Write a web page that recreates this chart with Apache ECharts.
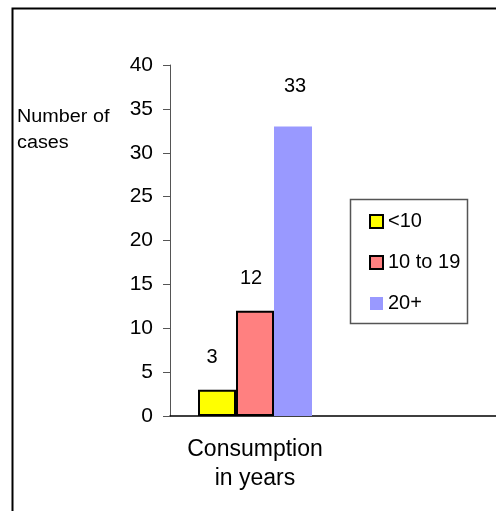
<!DOCTYPE html>
<html>
<head>
<meta charset="utf-8">
<script src="https://cdn.jsdelivr.net/npm/echarts@6/dist/echarts.min.js"></script>
<style>
  html, body { margin: 0; padding: 0; background: #fff; overflow: hidden; }
  #chart { width: 520px; height: 511px; }
</style>
</head>
<body>
<div id="chart"></div>
<script>
// Cases by years of consumption
const categories = ['Consumption\nin years', ''];
const seriesNames = ['<10', '10 to 19', '20+'];
const seriesValues = [3, 12, 33];
const yTicks = { min: 0, max: 40, interval: 5 };

const FONT = '"Liberation Sans", Arial, sans-serif';
const colors = ['#ffff00', '#ff8080', '#9999ff'];
const borders = ['#000', '#000', 'transparent'];
const labelDist = [22, 22, 30];
const labelShift = [[-5, 0], [-4, 0], [2, 0]];

const chart = echarts.init(document.getElementById('chart'), null, { renderer: 'canvas' });

const series = seriesNames.map((name, i) => ({
  name: name,
  type: 'bar',
  barWidth: 38,
  barGap: '0%',
  data: [seriesValues[i], null],
  itemStyle: { color: colors[i], borderColor: borders[i], borderWidth: i < 2 ? 2 : 0 },
  label: {
    show: true,
    position: 'top',
    distance: labelDist[i],
    offset: labelShift[i],
    color: '#000',
    fontFamily: FONT,
    fontSize: 20
  },
  emphasis: { disabled: true }
}));

chart.setOption({
  animation: false,
  grid: { left: 170, top: 65, right: 10, bottom: 95, containLabel: false },
  legend: {
    orient: 'vertical',
    left: 364,
    top: 206,
    itemWidth: 13,
    itemHeight: 13,
    itemGap: 20,
    itemTextGap: 6,
    icon: 'rect',
    textStyle: { fontFamily: FONT, fontSize: 20, lineHeight: 21, color: '#000' },
    data: seriesNames
  },
  xAxis: {
    type: 'category',
    data: categories,
    axisLine: { lineStyle: { color: '#000', width: 1.5 } },
    axisTick: { show: false },
    axisLabel: {
      color: '#000',
      fontFamily: FONT,
      fontSize: 23,
      lineHeight: 29,
      margin: 19,
      formatter: v => v
    }
  },
  yAxis: {
    type: 'value',
    min: yTicks.min,
    max: yTicks.max,
    interval: yTicks.interval,
    splitLine: { show: false },
    axisLine: { show: true, lineStyle: { color: '#555', width: 1 } },
    axisTick: { show: true, length: 7, lineStyle: { color: '#555' } },
    axisLabel: {
      color: '#000',
      fontFamily: FONT,
      fontSize: 21,
      margin: 17
    }
  },
  graphic: [
    {
      type: 'rect',
      shape: { x: 12.5, y: 8.5, width: 540, height: 540 },
      style: { fill: 'none', stroke: '#000', lineWidth: 2 },
      silent: true, z: 0
    },
    {
      type: 'rect',
      shape: { x: 350.5, y: 199.5, width: 117, height: 124 },
      style: { fill: 'none', stroke: '#555', lineWidth: 1.5 },
      silent: true, z: 0
    },
    {
      type: 'text',
      x: 17,
      y: 104,
      scaleX: 1.1,
      style: {
        text: 'Number of\ncases',
        fill: '#000',
        font: '18px "Liberation Sans", Arial, sans-serif',
        lineHeight: 26,
        verticalAlign: 'top'
      }
    }
  ],
  series: series
});
</script>
</body>
</html>
